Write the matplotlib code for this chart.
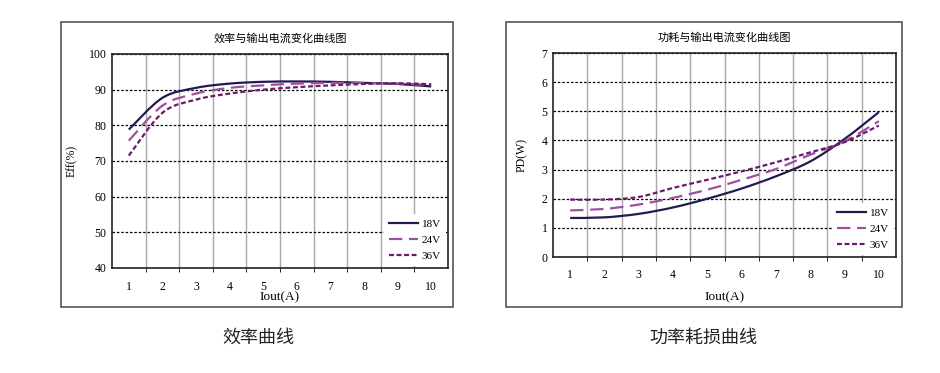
import matplotlib
matplotlib.use('Agg')
import matplotlib.pyplot as plt
from matplotlib.path import Path
from matplotlib.patches import PathPatch, Rectangle
from matplotlib.lines import Line2D
import numpy as np

plt.rcParams['font.family'] = ['Liberation Serif', 'Noto Sans CJK SC', 'DejaVu Sans']

iout = [1, 2, 3, 4, 5, 6, 7, 8, 9, 10]
series = ['18V', '24V', '36V']

eff_18v = [78.8, 87.7, 90.5, 91.7, 92.2, 92.3, 92.2, 91.9, 91.6, 90.9]
eff_24v = [75.7, 85.5, 88.9, 90.5, 91.2, 91.7, 91.9, 91.9, 91.7, 91.3]
eff_36v = [71.5, 83.5, 87.2, 88.9, 90.0, 90.7, 91.2, 91.6, 91.8, 91.5]

pd_18v = [1.34, 1.36, 1.48, 1.70, 2.00, 2.35, 2.77, 3.28, 4.05, 4.97]
pd_24v = [1.60, 1.65, 1.80, 2.03, 2.31, 2.65, 3.02, 3.51, 3.97, 4.66]
pd_36v = [1.97, 1.97, 2.06, 2.37, 2.65, 2.94, 3.25, 3.59, 3.94, 4.51]

colors = ['#241a50', '#a04fa0', '#6b1b6b']
styles = ['-', (0, (6, 3)), (0, (2.2, 1.2))]


def smooth_path(x, y):
    # Catmull-Rom through the points, written as cubic Bezier pieces
    x = np.asarray(x, float)
    y = np.asarray(y, float)
    pts = np.column_stack([x, y])
    verts = [pts[0]]
    codes = [Path.MOVETO]
    n = len(pts)
    for i in range(n - 1):
        p0 = pts[i - 1] if i > 0 else pts[i]
        p1 = pts[i]
        p2 = pts[i + 1]
        p3 = pts[i + 2] if i + 2 < n else pts[i + 1]
        c1 = p1 + (p2 - p0) / 6.0
        c2 = p2 - (p3 - p1) / 6.0
        verts += [c1, c2, p2]
        codes += [Path.CURVE4] * 3
    return Path(verts, codes)


def panel(ax, data, ylim, yticks, ylabel, title, ylab_x, xlab_y):
    for vals, c, ls in zip(data, colors, styles):
        ax.add_patch(PathPatch(smooth_path(iout, vals), fill=False,
                               edgecolor=c, linewidth=1.6, linestyle=ls,
                               capstyle='butt', zorder=3))
    ax.set_xlim(0.5, 10.5)
    ax.set_ylim(*ylim)
    ax.set_xticks(iout)
    ax.set_yticks(yticks)
    ax.set_xticks(np.arange(1.5, 10.5, 1), minor=True)
    ax.grid(True, which='minor', axis='x', color='#a8a8a8', linewidth=1.0)
    ax.grid(True, which='major', axis='y', color='black', linewidth=0.9,
            linestyle=(0, (2, 1.5)))
    ax.grid(False, which='major', axis='x')
    ax.tick_params(axis='x', which='major', length=0, pad=9, labelsize=8.5)
    ax.tick_params(axis='x', which='minor', length=3, direction='out')
    ax.tick_params(axis='y', length=0, pad=4, labelsize=8.5)
    for s in ax.spines.values():
        s.set_color('#222222')
        s.set_linewidth(1.2)
    ax.set_ylabel(ylabel, fontsize=8.5, va='center')
    ax.yaxis.set_label_coords(ylab_x, 0.5)
    ax.set_xlabel('Iout(A)', fontsize=9.5, va='center')
    ax.xaxis.set_label_coords(0.5, xlab_y)
    ax.set_title(title, fontsize=8, family=['Noto Sans CJK SC'], pad=9)
    handles = [Line2D([], [], color=c, lw=1.6, linestyle=ls)
               for c, ls in zip(colors, styles)]
    leg = ax.legend(handles, series, loc='lower right', fontsize=8,
                    frameon=True, handlelength=2.6, handletextpad=0.3,
                    labelspacing=0.55, borderaxespad=0.15, borderpad=0.5)
    leg.get_frame().set_facecolor('white')
    leg.get_frame().set_edgecolor('none')
    leg.get_frame().set_alpha(1.0)
    leg.set_zorder(5)


fig = plt.figure(figsize=(9.4, 3.73), dpi=100)
W, H = 940, 373


def px_rect(x0, y0, x1, y1):
    return [x0 / W, (H - y1) / H, (x1 - x0) / W, (y1 - y0) / H]


# outer frames of the two charts
for x0, y0, x1, y1 in [(61, 22, 453, 307), (506, 22, 902, 307)]:
    fig.patches.append(Rectangle((x0 / W, (H - y1) / H), (x1 - x0) / W,
                                 (y1 - y0) / H, transform=fig.transFigure,
                                 fill=False, edgecolor='#555555', lw=1.2))

ax1 = fig.add_axes(px_rect(112, 54, 448, 268))
panel(ax1, [eff_18v, eff_24v, eff_36v], (40, 100), range(40, 101, 10),
      'Eff(%)', '效率与输出电流变化曲线图', -40 / 336, -29 / 214)

ax2 = fig.add_axes(px_rect(553, 53, 896, 257))
panel(ax2, [pd_18v, pd_24v, pd_36v], (0, 7), range(0, 8),
      'PD(W)', '功耗与输出电流变化曲线图', -31 / 343, -40 / 204)

fig.text(258 / W, 1 - 338 / H, '效率曲线', ha='center', va='center',
         fontsize=13, family=['Noto Sans CJK SC'], color='#222222')
fig.text(703 / W, 1 - 338 / H, '功率耗损曲线', ha='center', va='center',
         fontsize=13, family=['Noto Sans CJK SC'], color='#222222')

fig.savefig('out.png', dpi=100)
